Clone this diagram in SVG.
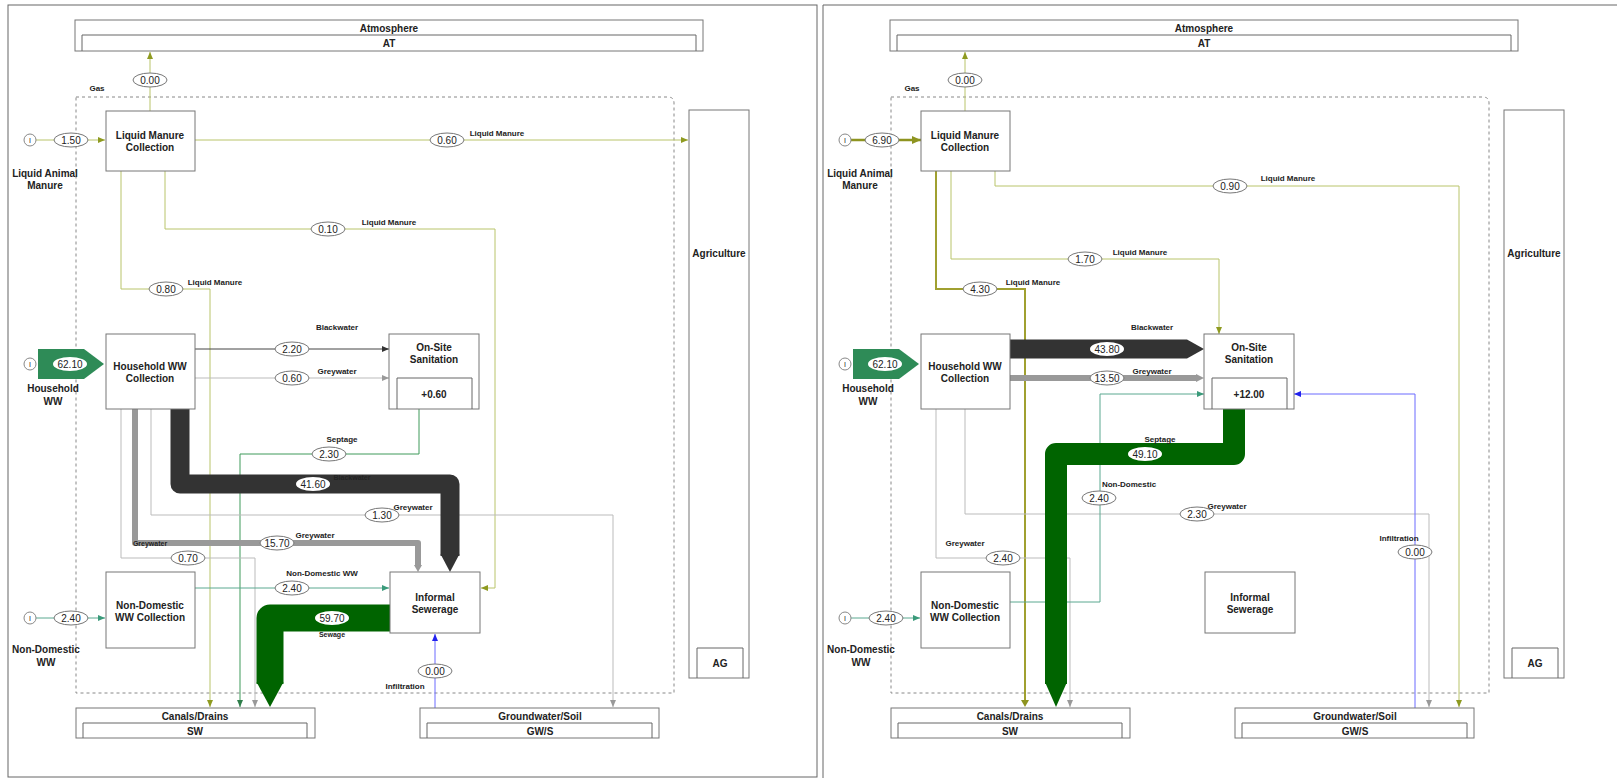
<svg xmlns="http://www.w3.org/2000/svg" width="1617" height="778" viewBox="0 0 1617 778">
<defs>
<style>
text{font-family:"Liberation Sans",Arial,sans-serif;fill:#222;text-anchor:middle;dominant-baseline:central}
.nl{font-size:10px;font-weight:bold}
.el{font-size:8px;font-weight:bold}
.sm{font-size:7px;font-weight:bold}
.v{font-size:10px}
.box{fill:#fff;stroke:#777;stroke-width:1}
.frame{fill:none;stroke:#666;stroke-width:1}
.sys{fill:none;stroke:#888;stroke-width:1;stroke-dasharray:3,3}
.ell{fill:#fff;stroke:#777;stroke-width:1}
.ellw{fill:#fff;stroke:none}
.c{fill:none}
.olive{stroke:#b9c46a;stroke-width:1}
.oliveT{stroke:#8e9420;stroke-width:2.5}
.dark{stroke:#444;stroke-width:1}
.lgrey{stroke:#bbb;stroke-width:1}
.green{stroke:#3e9a5a;stroke-width:1}
.teal{stroke:#5aa890;stroke-width:1}
.blue{stroke:#6a6aff;stroke-width:1}
.inp{fill:#fff;stroke:#888;stroke-width:1}
</style>
<marker id="mO" markerUnits="userSpaceOnUse" markerWidth="7" markerHeight="6" refX="7" refY="3" orient="auto"><path d="M0,0L7,3L0,6z" fill="#8e9a20"/></marker>
<marker id="mOB" markerUnits="userSpaceOnUse" markerWidth="9" markerHeight="8" refX="9" refY="4" orient="auto"><path d="M0,0L9,4L0,8z" fill="#8e9420"/></marker>
<marker id="mD" markerUnits="userSpaceOnUse" markerWidth="7" markerHeight="6" refX="7" refY="3" orient="auto"><path d="M0,0L7,3L0,6z" fill="#333"/></marker>
<marker id="mG" markerUnits="userSpaceOnUse" markerWidth="7" markerHeight="6" refX="7" refY="3" orient="auto"><path d="M0,0L7,3L0,6z" fill="#999"/></marker>
<marker id="mGr" markerUnits="userSpaceOnUse" markerWidth="7" markerHeight="6" refX="7" refY="3" orient="auto"><path d="M0,0L7,3L0,6z" fill="#2e7d4a"/></marker>
<marker id="mT" markerUnits="userSpaceOnUse" markerWidth="7" markerHeight="6" refX="7" refY="3" orient="auto"><path d="M0,0L7,3L0,6z" fill="#3a9a7a"/></marker>
<marker id="mB" markerUnits="userSpaceOnUse" markerWidth="7" markerHeight="6" refX="7" refY="3" orient="auto"><path d="M0,0L7,3L0,6z" fill="#2222ee"/></marker>
</defs>
<rect width="1617" height="778" fill="#fff"/>
<g id="frames">
<rect class="frame" x="8" y="5" width="809" height="772"/>
<path class="frame" d="M823,778V5H1617"/>
</g>

<!-- ================= LEFT PANEL ================= -->
<g id="left-panel">
<path id="L-system" class="sys" d="M76,97H668Q674,97 674,103V693H76Z"/>

<g id="L-connectors">
<path class="c olive" d="M150,111V52" marker-end="url(#mO)"/>
<ellipse class="ell" cx="150" cy="80" rx="17" ry="7"/><text class="v" x="150" y="80">0.00</text>
<text class="el" x="97" y="88">Gas</text>
<path class="c olive" d="M36,140H105" marker-end="url(#mO)"/>
<ellipse class="ell" cx="71" cy="140" rx="17" ry="7"/><text class="v" x="71" y="140">1.50</text>
<path class="c olive" d="M195,140H688" marker-end="url(#mO)"/>
<ellipse class="ell" cx="447" cy="140" rx="17" ry="7"/><text class="v" x="447" y="140">0.60</text>
<text class="el" x="497" y="133">Liquid Manure</text>
<path class="c olive" d="M165,171V229H495V588H481" marker-end="url(#mO)"/>
<ellipse class="ell" cx="328" cy="229" rx="17" ry="7"/><text class="v" x="328" y="229">0.10</text>
<text class="el" x="389" y="222">Liquid Manure</text>
<path class="c olive" d="M121,171V289H210V707" marker-end="url(#mO)"/>
<ellipse class="ell" cx="166" cy="289" rx="17" ry="7"/><text class="v" x="166" y="289">0.80</text>
<text class="el" x="215" y="282">Liquid Manure</text>
<polygon points="38,349 84,349 104,364 84,379 38,379" fill="#2e8b57"/>
<ellipse class="ellw" cx="70" cy="364" rx="17" ry="7"/><text class="v" x="70" y="364">62.10</text>
<path class="c dark" d="M195,349H389" marker-end="url(#mD)"/>
<ellipse class="ell" cx="292" cy="349" rx="17" ry="7"/><text class="v" x="292" y="349">2.20</text>
<text class="el" x="337" y="327">Blackwater</text>
<path class="c lgrey" d="M195,378H389" marker-end="url(#mG)"/>
<ellipse class="ell" cx="292" cy="378" rx="17" ry="7"/><text class="v" x="292" y="378">0.60</text>
<text class="el" x="337" y="371">Greywater</text>
<path class="c green" d="M419,409V454H240V707" marker-end="url(#mGr)"/>
<ellipse class="ell" cx="329" cy="454" rx="17" ry="7"/><text class="v" x="329" y="454">2.30</text>
<text class="el" x="342" y="439">Septage</text>
<path class="c lgrey" d="M151,409V515H613V707" marker-end="url(#mG)"/>
<path class="c lgrey" d="M121,409V558H255V707" marker-end="url(#mG)"/>
<path class="c" d="M180,409V484H450V556" stroke="#333" stroke-width="19" stroke-linejoin="round"/>
<polygon points="440.5,554 459.5,554 450,572" fill="#333"/>
<ellipse class="ellw" cx="313" cy="484" rx="17" ry="7"/><text class="v" x="313" y="484">41.60</text>
<text class="sm" x="352" y="477">Blackwater</text>
<ellipse class="ell" cx="382" cy="515" rx="17" ry="7"/><text class="v" x="382" y="515">1.30</text>
<text class="el" x="413" y="507">Greywater</text>
<path class="c" d="M135,409V543H418V566" stroke="#999" stroke-width="6" stroke-linejoin="round"/>
<polygon points="414,565 422,565 418,572" fill="#999"/>
<ellipse class="ell" cx="277" cy="543" rx="17" ry="7"/><text class="v" x="277" y="543">15.70</text>
<text class="el" x="315" y="535">Greywater</text>
<text class="sm" x="150" y="543">Greywater</text>
<ellipse class="ell" cx="188" cy="558" rx="17" ry="7"/><text class="v" x="188" y="558">0.70</text>
<path class="c teal" d="M36,618H105" marker-end="url(#mT)"/>
<ellipse class="ell" cx="71" cy="618" rx="17" ry="7"/><text class="v" x="71" y="618">2.40</text>
<path class="c teal" d="M195,588H389" marker-end="url(#mT)"/>
<ellipse class="ell" cx="292" cy="588" rx="17" ry="7"/><text class="v" x="292" y="588">2.40</text>
<text class="el" x="322" y="573">Non-Domestic WW</text>
<path class="c" d="M390,618H270V684" stroke="#006400" stroke-width="27" stroke-linejoin="round"/>
<polygon points="256.5,682 283.5,682 270,707" fill="#006400"/>
<ellipse class="ellw" cx="332" cy="618" rx="17" ry="7"/><text class="v" x="332" y="618">59.70</text>
<text class="sm" x="332" y="634">Sewage</text>
<path class="c blue" d="M435,708V634" marker-end="url(#mB)"/>
<ellipse class="ell" cx="435" cy="671" rx="17" ry="7"/><text class="v" x="435" y="671">0.00</text>
<text class="el" x="405" y="686">Infiltration</text>
</g>

<g id="L-atmosphere"><rect class="box" x="75" y="20" width="628" height="31"/><path class="frame" d="M82,51V35H696V51"/><text class="nl" x="389" y="28">Atmosphere</text><text class="nl" x="389" y="43">AT</text></g>
<g id="L-lmc"><rect class="box" x="106" y="111" width="89" height="60"/><text class="nl" x="150" y="135">Liquid Manure</text><text class="nl" x="150" y="147">Collection</text></g>
<g id="L-lam-in"><circle class="inp" cx="30" cy="140" r="6"/><text class="v" x="30" y="140" style="font-size:7px">I</text><text class="nl" x="45" y="173">Liquid Animal</text><text class="nl" x="45" y="185">Manure</text></g>
<g id="L-hh-in"><circle class="inp" cx="30" cy="364" r="6"/><text class="v" x="30" y="364" style="font-size:7px">I</text><text class="nl" x="53" y="388">Household</text><text class="nl" x="53" y="401">WW</text></g>
<g id="L-nd-in"><circle class="inp" cx="30" cy="618" r="6"/><text class="v" x="30" y="618" style="font-size:7px">I</text><text class="nl" x="46" y="649">Non-Domestic</text><text class="nl" x="46" y="662">WW</text></g>
<g id="L-hwc"><rect class="box" x="106" y="334" width="89" height="75"/><text class="nl" x="150" y="366">Household WW</text><text class="nl" x="150" y="378">Collection</text></g>
<g id="L-oss"><rect class="box" x="389" y="334" width="90" height="75"/><path class="frame" d="M397,409V378H472V409"/><text class="nl" x="434" y="347">On-Site</text><text class="nl" x="434" y="359">Sanitation</text><text class="nl" x="434" y="394">+0.60</text></g>
<g id="L-ndc"><rect class="box" x="106" y="572" width="89" height="76"/><text class="nl" x="150" y="605">Non-Domestic</text><text class="nl" x="150" y="617">WW Collection</text></g>
<g id="L-is"><rect class="box" x="390" y="572" width="90" height="61"/><text class="nl" x="435" y="597">Informal</text><text class="nl" x="435" y="609">Sewerage</text></g>
<g id="L-ag"><rect class="box" x="689" y="110" width="60" height="568"/><path class="frame" d="M697,678V648H743V678"/><text class="nl" x="719" y="253">Agriculture</text><text class="nl" x="720" y="663">AG</text></g>
<g id="L-canals"><rect class="box" x="76" y="708" width="239" height="30"/><path class="frame" d="M83,738V723H307V738"/><text class="nl" x="195" y="716">Canals/Drains</text><text class="nl" x="195" y="731">SW</text></g>
<g id="L-gw"><rect class="box" x="420" y="708" width="239" height="30"/><path class="frame" d="M427,738V723H652V738"/><text class="nl" x="540" y="716">Groundwater/Soil</text><text class="nl" x="540" y="731">GW/S</text></g>
</g>

<!-- ================= RIGHT PANEL ================= -->
<g id="right-panel" transform="translate(815,0)">
<path id="R-system" class="sys" d="M76,97H668Q674,97 674,103V693H76Z"/>

<g id="R-connectors">
<path class="c olive" d="M150,111V52" marker-end="url(#mO)"/>
<ellipse class="ell" cx="150" cy="80" rx="17" ry="7"/><text class="v" x="150" y="80">0.00</text>
<text class="el" x="97" y="88">Gas</text>
<path class="c oliveT" d="M36,140H106" marker-end="url(#mOB)"/>
<ellipse class="ell" cx="67" cy="140" rx="17" ry="7"/><text class="v" x="67" y="140">6.90</text>
<path class="c olive" d="M180,171V186H644V707" marker-end="url(#mO)"/>
<ellipse class="ell" cx="415" cy="186" rx="17" ry="7"/><text class="v" x="415" y="186">0.90</text>
<text class="el" x="473" y="178">Liquid Manure</text>
<path class="c olive" d="M136,171V259H404V334" marker-end="url(#mO)"/>
<ellipse class="ell" cx="270" cy="259" rx="17" ry="7"/><text class="v" x="270" y="259">1.70</text>
<text class="el" x="325" y="252">Liquid Manure</text>
<path class="c" d="M121,171V289H210V700" stroke="#a0a030" stroke-width="2"/>
<polygon points="206,700 214,700 210,707" fill="#8e9420"/>
<ellipse class="ell" cx="165" cy="289" rx="17" ry="7"/><text class="v" x="165" y="289">4.30</text>
<text class="el" x="218" y="282">Liquid Manure</text>
<polygon points="38,349 84,349 104,364 84,379 38,379" fill="#2e8b57"/>
<ellipse class="ellw" cx="70" cy="364" rx="17" ry="7"/><text class="v" x="70" y="364">62.10</text>
<polygon points="195,339.5 372,339.5 389,349 372,358.5 195,358.5" fill="#333"/>
<ellipse class="ellw" cx="292" cy="349" rx="17" ry="7"/><text class="v" x="292" y="349">43.80</text>
<text class="el" x="337" y="327">Blackwater</text>
<path class="c" d="M195,378H382" stroke="#999" stroke-width="6"/>
<polygon points="381,374 389,378 381,382" fill="#999"/>
<ellipse class="ell" cx="292" cy="378" rx="17" ry="7"/><text class="v" x="292" y="378">13.50</text>
<text class="el" x="337" y="371">Greywater</text>
<path class="c lgrey" d="M150,409V514H614V707" marker-end="url(#mG)"/>
<path class="c lgrey" d="M121,409V558H255V707" marker-end="url(#mG)"/>
<path class="c teal" d="M195,602H285V394H389" marker-end="url(#mT)"/>
<path class="c blue" d="M600,708V394H479" marker-end="url(#mB)"/>
<path class="c" d="M419,409V454H241V684" stroke="#006400" stroke-width="22" stroke-linejoin="round"/>
<polygon points="230,682 252,682 241,707" fill="#006400"/>
<ellipse class="ellw" cx="330" cy="454" rx="17" ry="7"/><text class="v" x="330" y="454">49.10</text>
<text class="el" x="345" y="439">Septage</text>
<ellipse class="ell" cx="284" cy="498" rx="17" ry="7"/><text class="v" x="284" y="498">2.40</text>
<text class="el" x="314" y="484">Non-Domestic</text>
<ellipse class="ell" cx="382" cy="514" rx="17" ry="7"/><text class="v" x="382" y="514">2.30</text>
<text class="el" x="412" y="506">Greywater</text>
<ellipse class="ell" cx="188" cy="558" rx="17" ry="7"/><text class="v" x="188" y="558">2.40</text>
<text class="el" x="150" y="543">Greywater</text>
<ellipse class="ell" cx="600" cy="552" rx="17" ry="7"/><text class="v" x="600" y="552">0.00</text>
<text class="el" x="584" y="538">Infiltration</text>
<path class="c teal" d="M36,618H105" marker-end="url(#mT)"/>
<ellipse class="ell" cx="71" cy="618" rx="17" ry="7"/><text class="v" x="71" y="618">2.40</text>
</g>

<g id="R-atmosphere"><rect class="box" x="75" y="20" width="628" height="31"/><path class="frame" d="M82,51V35H696V51"/><text class="nl" x="389" y="28">Atmosphere</text><text class="nl" x="389" y="43">AT</text></g>
<g id="R-lmc"><rect class="box" x="106" y="111" width="89" height="60"/><text class="nl" x="150" y="135">Liquid Manure</text><text class="nl" x="150" y="147">Collection</text></g>
<g id="R-lam-in"><circle class="inp" cx="30" cy="140" r="6"/><text class="v" x="30" y="140" style="font-size:7px">I</text><text class="nl" x="45" y="173">Liquid Animal</text><text class="nl" x="45" y="185">Manure</text></g>
<g id="R-hh-in"><circle class="inp" cx="30" cy="364" r="6"/><text class="v" x="30" y="364" style="font-size:7px">I</text><text class="nl" x="53" y="388">Household</text><text class="nl" x="53" y="401">WW</text></g>
<g id="R-nd-in"><circle class="inp" cx="30" cy="618" r="6"/><text class="v" x="30" y="618" style="font-size:7px">I</text><text class="nl" x="46" y="649">Non-Domestic</text><text class="nl" x="46" y="662">WW</text></g>
<g id="R-hwc"><rect class="box" x="106" y="334" width="89" height="75"/><text class="nl" x="150" y="366">Household WW</text><text class="nl" x="150" y="378">Collection</text></g>
<g id="R-oss"><rect class="box" x="389" y="334" width="90" height="75"/><path class="frame" d="M397,409V378H472V409"/><text class="nl" x="434" y="347">On-Site</text><text class="nl" x="434" y="359">Sanitation</text><text class="nl" x="434" y="394">+12.00</text></g>
<g id="R-ndc"><rect class="box" x="106" y="572" width="89" height="76"/><text class="nl" x="150" y="605">Non-Domestic</text><text class="nl" x="150" y="617">WW Collection</text></g>
<g id="R-is"><rect class="box" x="390" y="572" width="90" height="61"/><text class="nl" x="435" y="597">Informal</text><text class="nl" x="435" y="609">Sewerage</text></g>
<g id="R-ag"><rect class="box" x="689" y="110" width="60" height="568"/><path class="frame" d="M697,678V648H743V678"/><text class="nl" x="719" y="253">Agriculture</text><text class="nl" x="720" y="663">AG</text></g>
<g id="R-canals"><rect class="box" x="76" y="708" width="239" height="30"/><path class="frame" d="M83,738V723H307V738"/><text class="nl" x="195" y="716">Canals/Drains</text><text class="nl" x="195" y="731">SW</text></g>
<g id="R-gw"><rect class="box" x="420" y="708" width="239" height="30"/><path class="frame" d="M427,738V723H652V738"/><text class="nl" x="540" y="716">Groundwater/Soil</text><text class="nl" x="540" y="731">GW/S</text></g>
</g>
</svg>
